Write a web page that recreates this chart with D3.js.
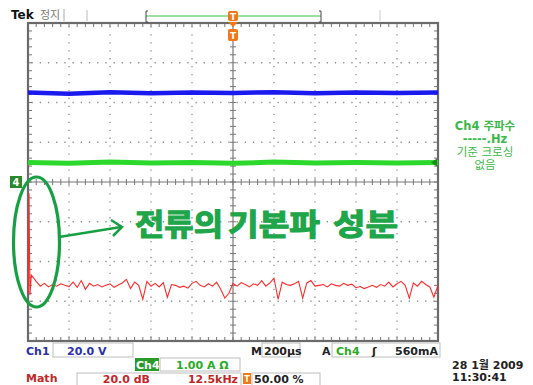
<!DOCTYPE html>
<html><head><meta charset="utf-8">
<script src="https://cdn.jsdelivr.net/npm/d3@7"></script>
<style>
body{margin:0;background:#fff;}
svg{display:block;font-family:"DejaVu Sans","Noto Sans CJK KR",sans-serif;}
</style></head>
<body>
<svg id="c" width="533" height="385"></svg>
<script>
// ---- data ----
const xDivisions = 10, yDivisions = 8;
const freqSpanKHz = 125;              // 12.5 kHz/div * 10
const ch1Level = [6.25, 6.22, 6.26, 6.23, 6.25, 6.24, 6.26, 6.23, 6.25, 6.24, 6.25];   // divisions
const ch4Level = [4.49, 4.47, 4.50, 4.48, 4.49, 4.47, 4.50, 4.48, 4.49, 4.48, 4.49];
const spikeFreq = [0.1, 0.3, 0.6, 1.0];
const spikeLevel = [1.2, 3.72, 1.15, 1.66];
const mathStepKHz = 1.25;
const mathLevel = [1.50,1.38,1.45,1.36,1.42,1.38,1.44,1.40,1.37,1.48,1.35,1.52,1.30,1.45,1.38,1.42,1.36,1.40,1.44,1.35,
1.41,1.46,1.55,1.32,1.48,1.40,1.05,1.50,1.38,1.45,1.36,1.47,1.10,1.42,1.40,1.35,1.38,1.33,1.45,1.50,
1.40,1.36,1.44,1.38,1.48,1.30,1.08,1.20,1.45,1.38,1.47,1.42,1.36,1.44,1.40,1.52,1.38,1.46,1.58,1.05,
1.48,1.42,1.40,1.44,1.50,1.08,1.46,1.52,1.38,1.40,1.42,1.36,1.44,1.40,1.38,1.45,1.40,1.43,1.34,1.37,
1.32,1.36,1.40,1.35,1.42,1.38,1.48,1.36,1.44,1.50,1.40,1.08,1.46,1.38,1.50,1.42,1.36,1.10,1.40];
const rightInfo = ["Ch4 주파수", "-----.Hz", "기준 크로싱", "없음"];
const annotationWords = ["전류의", "기본파", "성분"];

// ---- scales ----
const svg = d3.select("#c");
const x = d3.scaleLinear().domain([0, freqSpanKHz]).range([28, 438]);
const y = d3.scaleLinear().domain([0, yDivisions]).range([341, 23]);
const divW = (x.range()[1]-x.range()[0])/xDivisions;
const divH = (y.range()[0]-y.range()[1])/yDivisions;

// ---- graticule ----
const g = svg.append("g");
const gridCol = "#8f8f8f";
d3.range(1, xDivisions).forEach(i=>{
  const xx = x.range()[0]+i*divW;
  if (i===5) return;
  g.append("line").attr("x1",xx).attr("x2",xx).attr("y1",y.range()[1]).attr("y2",y.range()[0])
   .attr("stroke",gridCol).attr("stroke-width",1.3).attr("stroke-dasharray","1.3,6.65").attr("stroke-dashoffset",-3.3);
});
d3.range(1, yDivisions).forEach(i=>{
  const yy = y.range()[1]+i*divH;
  if (i===4) return;
  g.append("line").attr("x1",x.range()[0]).attr("x2",x.range()[1]).attr("y1",yy).attr("y2",yy)
   .attr("stroke",gridCol).attr("stroke-width",1.3).attr("stroke-dasharray","1.3,6.9").attr("stroke-dashoffset",-3.5);
});
const cx = x(freqSpanKHz/2), cy = y(yDivisions/2);
g.append("line").attr("x1",cx).attr("x2",cx).attr("y1",y.range()[1]).attr("y2",y.range()[0]).attr("stroke","#777").attr("stroke-width",1.2);
g.append("line").attr("x1",x.range()[0]).attr("x2",x.range()[1]).attr("y1",cy).attr("y2",cy).attr("stroke","#777").attr("stroke-width",1.2);
const xt = d3.range(0, xDivisions*5+1).map(i=>x.range()[0]+i*divW/5);
const yt = d3.range(0, yDivisions*5+1).map(i=>y.range()[1]+i*divH/5);
xt.forEach(xx=>{
  g.append("line").attr("x1",xx).attr("x2",xx).attr("y1",cy-3).attr("y2",cy+3).attr("stroke","#777");
  g.append("line").attr("x1",xx).attr("x2",xx).attr("y1",y.range()[1]).attr("y2",y.range()[1]+4).attr("stroke","#777");
  g.append("line").attr("x1",xx).attr("x2",xx).attr("y1",y.range()[0]-4).attr("y2",y.range()[0]).attr("stroke","#777");
});
yt.forEach(yy=>{
  g.append("line").attr("x1",cx-3).attr("x2",cx+3).attr("y1",yy).attr("y2",yy).attr("stroke","#777");
  g.append("line").attr("x1",x.range()[0]).attr("x2",x.range()[0]+4).attr("y1",yy).attr("y2",yy).attr("stroke","#777");
  g.append("line").attr("x1",x.range()[1]-4).attr("x2",x.range()[1]).attr("y1",yy).attr("y2",yy).attr("stroke","#777");
});
g.append("rect").attr("x",x.range()[0]).attr("y",y.range()[1]).attr("width",x.range()[1]-x.range()[0])
 .attr("height",y.range()[0]-y.range()[1]).attr("fill","none").attr("stroke","#6a6a6a").attr("stroke-width",2.2);

// ---- traces ----
const flatLine = d3.line().x((d,i,a)=>x(i*freqSpanKHz/(a.length-1))).y(d=>y(d));
svg.append("path").attr("d",flatLine(ch1Level)).attr("fill","none").attr("stroke","#1a1aee").attr("stroke-width",4.5);
svg.append("path").attr("d",flatLine(ch4Level)).attr("fill","none").attr("stroke","#2bd82b").attr("stroke-width",5);

const mathPts = spikeFreq.map((f,i)=>[f, spikeLevel[i]])
  .concat(mathLevel.map((v,i)=>[(i+2)*mathStepKHz, v]));
svg.append("path").attr("d", d3.line().x(d=>x(d[0])).y(d=>y(d[1]))(mathPts))
  .attr("fill","none").attr("stroke","#ff2a2a").attr("stroke-width",1.1);

svg.append("path").attr("d",`M${x.range()[1]-7},${y(ch4Level[0])} l6,-4 l0,8 z`).attr("fill","#1a8a1a");
svg.append("rect").attr("x",10).attr("y",176).attr("width",12).attr("height",12).attr("fill","#2a8a2a");
svg.append("text").attr("x",16).attr("y",186).attr("text-anchor","middle").attr("fill","#fff")
  .attr("font-size",10).attr("font-weight","bold").text("4");

// ---- top bar ----
svg.append("text").attr("x",11).attr("y",19).attr("font-size",12).attr("font-weight","bold").attr("fill","#111").text("Tek");
svg.append("text").attr("x",40).attr("y",19).attr("font-size",11).attr("fill","#777").text("정지");
svg.append("line").attr("x1",64).attr("x2",64).attr("y1",9).attr("y2",21).attr("stroke","#aaa");
svg.append("line").attr("x1",87).attr("x2",87).attr("y1",10).attr("y2",21).attr("stroke","#bbb");
svg.append("line").attr("x1",380).attr("x2",380).attr("y1",10).attr("y2",21).attr("stroke","#ccc");
svg.append("line").attr("x1",146).attr("x2",321).attr("y1",16).attr("y2",16).attr("stroke","#7cd67c").attr("stroke-width",1.5);
svg.append("path").attr("d","M148,11 L146,11 L146,22 L148,22").attr("fill","none").attr("stroke","#444");
svg.append("path").attr("d","M319,11 L321,11 L321,22 L319,22").attr("fill","none").attr("stroke","#444");
svg.append("rect").attr("x",228).attr("y",11).attr("width",10).attr("height",10).attr("rx",2).attr("fill","#f07818");
svg.append("text").attr("x",233).attr("y",19.5).attr("text-anchor","middle").attr("font-size",9).attr("font-weight","bold").attr("fill","#fff").text("T");
svg.append("path").attr("d","M228,22 L238,22 L233,27 Z").attr("fill","#f07818");
svg.append("rect").attr("x",228).attr("y",29).attr("width",10).attr("height",12).attr("rx",2).attr("fill","#f07818");
svg.append("text").attr("x",233).attr("y",38.5).attr("text-anchor","middle").attr("font-size",9).attr("font-weight","bold").attr("fill","#fff").text("T");

// ---- right info ----
const infoY = [130, 143, 156, 169];
rightInfo.forEach((t,i)=>{
  svg.append("text").attr("x",485).attr("y",infoY[i]).attr("text-anchor","middle")
   .attr("font-size",11.5).attr("font-weight", i<2 ? "bold":"normal").attr("fill","#3cb84a").text(t);
});

// ---- annotation ----
svg.append("ellipse").attr("cx",36.5).attr("cy",242).attr("rx",23).attr("ry",65)
  .attr("fill","none").attr("stroke","#17a043").attr("stroke-width",3.2);
svg.append("line").attr("x1",59).attr("y1",237).attr("x2",121).attr("y2",227).attr("stroke","#17a043").attr("stroke-width",2.5);
svg.append("path").attr("d","M111,220 L122,227 L113,236").attr("fill","none").attr("stroke","#17a043").attr("stroke-width",2.5);
const wordX = [135, 228, 333];
const wordW = [88, 92, 65];
annotationWords.forEach((w,i)=>{
  svg.append("text").attr("x",wordX[i]).attr("y",235).attr("font-size",30).attr("font-weight","bold")
    .attr("textLength",wordW[i]).attr("lengthAdjust","spacingAndGlyphs")
    .attr("font-family","'Noto Sans CJK KR',sans-serif")
    .attr("fill","#1fa64a").attr("stroke","#1fa64a").attr("stroke-width",1.2)
    .text(w);
});

// ---- bottom readouts ----
const box = (x0,y0,w,h)=>svg.append("rect").attr("x",x0).attr("y",y0).attr("width",w).attr("height",h)
  .attr("fill","none").attr("stroke","#bdbdbd").attr("stroke-width",1);
const txt = (x0,y0,t,col,anchor,w)=>svg.append("text").attr("x",x0).attr("y",y0).attr("font-size",11)
  .attr("font-weight",w||"bold").attr("fill",col).attr("text-anchor",anchor||"start").text(t);
txt(26,355,"Ch1","#2b2fa8");
box(53,343,80,14);
txt(67,355,"20.0 V","#2b2fa8");
txt(251,355,"M","#222");
box(262,343,38,14);
txt(264,355,"200µs","#222");
txt(322,355,"A","#222");
box(332,343,108,14);
txt(336,355,"Ch4","#2aaa2a");
txt(372,355,"ʃ","#222");
txt(438,355,"560mA","#222","end");
svg.append("rect").attr("x",135).attr("y",358).attr("width",24).attr("height",13).attr("fill","#2a9a2a");
txt(136,369,"Ch4","#ffffff");
box(160,358,80,13);
txt(176,369,"1.00 A Ω","#2aaa2a");
txt(26,382,"Math","#c02828");
box(77,373,164,13);
txt(150,383,"20.0 dB","#c02828","end");
txt(238,383,"12.5kHz","#c02828","end");
svg.append("rect").attr("x",243).attr("y",373).attr("width",8).attr("height",11).attr("fill","#f07818");
svg.append("text").attr("x",247).attr("y",382).attr("font-size",8).attr("font-weight","bold").attr("fill","#fff").attr("text-anchor","middle").text("T");
box(252,373,68,13);
txt(254,383,"50.00 %","#222");
txt(452,369,"28 1월 2009","#222");
txt(452,381,"11:30:41","#222");
</script>
</body></html>
